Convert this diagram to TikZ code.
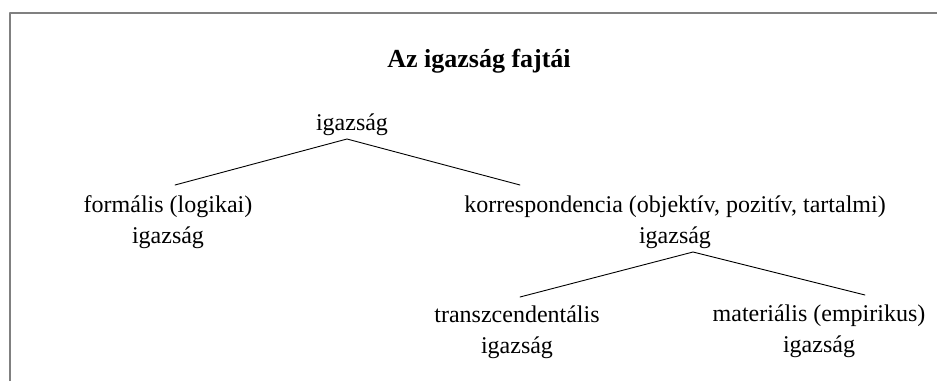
\documentclass[tikz,border=0pt]{standalone}
\usepackage{fontspec}
\setmainfont{Liberation Serif}
\begin{document}
\begin{tikzpicture}[x=1pt,y=-1pt, line join=round, line cap=round,
		fa/.style={align=center, font=\fontsize{24}{31}\selectfont, inner sep=0pt, anchor=base},
		cim/.style={font=\fontsize{26}{31}\selectfont\bfseries, inner sep=0pt, anchor=base},
		ag/.style={line width=0.9pt}]
		\useasboundingbox (0,0) rectangle (937,381);
		\draw[gray, line width=1.6pt, line cap=butt] (10,381)--(10,13)--(937,13); % keret
		\node[cim] (cim) at (479,67) {Az igazság fajtái};
		\node[fa] (gyoker) at (352,130) {igazság};
		\node[fa] (formalis) at (168,243) {formális (logikai)\\igazság};
		\node[fa] (korr) at (675,243) {korrespondencia (objektív, pozitív, tartalmi)\\igazság};
		\node[fa] (transz) at (517,353) {transzcendentális\\igazság};
		\node[fa] (mater) at (819,352) {materiális (empirikus)\\igazság};
		% csomopontok
		\coordinate (gyoker-al) at (347,139);
		\coordinate (formalis-fent) at (175,185);
		\coordinate (korr-fent) at (520,185);
		\coordinate (korr-al) at (693,252);
		\coordinate (transz-fent) at (520,297);
		\coordinate (mater-fent) at (865,295);
		\draw[ag] (formalis-fent)--(gyoker-al)--(korr-fent);
		\draw[ag] (transz-fent)--(korr-al)--(mater-fent);
\end{tikzpicture}
\end{document}
